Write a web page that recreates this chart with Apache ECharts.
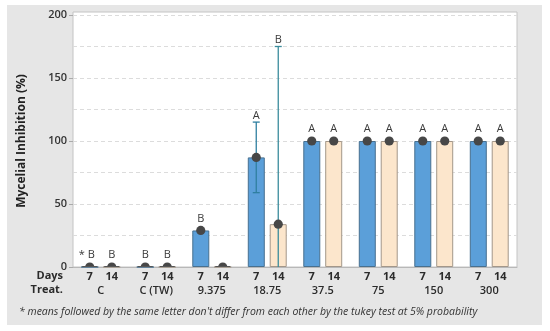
<!DOCTYPE html>
<html><head><meta charset="utf-8">
<script src="https://cdn.jsdelivr.net/npm/echarts@6/dist/echarts.min.js"></script>
<style>html,body{margin:0;padding:0;background:#fff}#c{width:550px;height:331px}</style>
</head><body><div id="c"></div>
<script>
const treatments = ['C', 'C (TW)', '9.375', '18.75', '37.5', '75', '150', '300'];
const days = ['7', '14'];
const mean7 = [0, 0, 29, 87, 100, 100, 100, 100];
const mean14 = [0, 0, 0, 34, 100, 100, 100, 100];
const err7 = [0, 0, 0, 28, 0, 0, 0, 0];
const err14 = [0, 0, 0, 141, 0, 0, 0, 0];
const letters7 = ['* B', 'B', 'B', 'A', 'A', 'A', 'A', 'A'];
const letters14 = ['B', 'B', '', 'B', 'A', 'A', 'A', 'A'];
const yTicks = [0, 50, 100, 150, 200];
const footnote = "* means followed by the same letter don't differ from each other by the tukey test at 5% probability";

const FONT = 'Open Sans';
const OFF = 11;

function makeRender(offset, means, errs, letters, errColor) {
  return function (params, api) {
    const i = params.dataIndex;
    const cs = params.coordSys;
    const bottom = cs.y + cs.height;
    const c = api.coord([i, means[i]]);
    const x = c[0] + offset;
    const children = [];
    let topY = c[1] - 4.5;
    let gap = 2;
    if (errs[i] > 0) {
      const yt = api.coord([i, means[i] + errs[i]])[1];
      const yb = Math.min(api.coord([i, means[i] - errs[i]])[1], bottom);
      const ls = { stroke: errColor, lineWidth: 1.3 };
      children.push({ type: 'line', shape: { x1: x, y1: yt, x2: x, y2: yb }, style: ls });
      children.push({ type: 'line', shape: { x1: x - 3.5, y1: yt, x2: x + 3.5, y2: yt }, style: ls });
      if (yb < bottom) {
        children.push({ type: 'line', shape: { x1: x - 3.5, y1: yb, x2: x + 3.5, y2: yb }, style: ls });
      }
      topY = yt;
      gap = 1;
    }
    if (c[1] >= bottom - 0.5) {
      children.push({ type: 'sector', shape: { cx: x, cy: bottom, r0: 0, r: 4.6, startAngle: Math.PI, endAngle: 2 * Math.PI, clockwise: true }, style: { fill: '#474747' } });
      children.push({ type: 'line', shape: { x1: x - 7.5, y1: bottom - 0.5, x2: x + 7.5, y2: bottom - 0.5 }, style: { stroke: '#555', lineWidth: 1 } });
    } else {
      children.push({ type: 'circle', shape: { cx: x, cy: c[1], r: 4.6 }, style: { fill: '#474747' } });
    }
    const lt = letters[i];
    if (lt) {
      const star = lt.indexOf('*') === 0;
      children.push({
        type: 'text',
        style: {
          text: lt, x: star ? x + 5 : x, y: topY - gap,
          align: star ? 'right' : 'center', verticalAlign: 'bottom',
          fontFamily: FONT, fontSize: 11, fill: '#3a3a3a'
        }
      });
    }
    return { type: 'group', children };
  };
}

const chart = echarts.init(document.getElementById('c'), null, { renderer: 'canvas' });
const labelRich = {
  d: { width: 22, align: 'center', fontFamily: FONT, fontSize: 11, fontWeight: 'bold', color: '#2b2b2b', lineHeight: 14 },
  t: { align: 'center', fontFamily: FONT, fontSize: 11, fontWeight: 600, color: '#2b2b2b', lineHeight: 14 }
};
chart.setOption({
  backgroundColor: '#ffffff',
  animation: false,
  graphic: [
    { type: 'rect', shape: { x: 7, y: 5, width: 535, height: 320 }, style: { fill: '#e6e6e6' }, z: -10 },
    { type: 'text', style: { text: 'Days', x: 63, y: 276, align: 'right', verticalAlign: 'middle', fontFamily: FONT, fontSize: 11, fontWeight: 'bold', fill: '#2b2b2b' } },
    { type: 'text', style: { text: 'Treat.', x: 63, y: 290, align: 'right', verticalAlign: 'middle', fontFamily: FONT, fontSize: 11, fontWeight: 'bold', fill: '#2b2b2b' } },
    { type: 'text', style: { text: footnote, x: 19, y: 312, align: 'left', verticalAlign: 'middle', fontFamily: FONT, fontSize: 10.5, fontStyle: 'italic', fill: '#333' } }
  ],
  grid: [
    { left: 73, right: 33, top: 15, bottom: 64, show: false, containLabel: false },
    { left: 73, right: 33, top: 12, bottom: 64, show: true, backgroundColor: '#ffffff', borderColor: '#c4c4c4', borderWidth: 1, z: 0 }
  ],
  xAxis: [
    {
      type: 'category', data: treatments, gridIndex: 0,
      axisLine: { show: true, lineStyle: { color: '#b8b8b8' } },
      axisTick: { show: false },
      axisLabel: {
        margin: 3, interval: 0,
        formatter: function (v) { return '{d|' + days[0] + '}{d|' + days[1] + '}\n{t|' + v + '}'; },
        rich: labelRich
      }
    },
    { type: 'value', gridIndex: 1, show: false }
  ],
  yAxis: [
    {
      type: 'value', gridIndex: 0, min: 0, max: 200, interval: 50,
      name: 'Mycelial Inhibition (%)', nameLocation: 'middle', nameGap: 45,
      nameTextStyle: { fontFamily: FONT, fontSize: 12, fontWeight: 'bold', color: '#222' },
      axisLine: { show: false },
      axisTick: { show: true, length: 4, lineStyle: { color: '#aaa' } },
      axisLabel: {
        margin: 6, fontFamily: FONT, fontSize: 11, fontWeight: 600, color: '#333',
        formatter: function (v) { return yTicks.indexOf(v) >= 0 ? String(v) : ''; }
      },
      splitLine: { show: true, lineStyle: { color: '#dcdcdc', type: [4, 3] } },
      minorTick: { show: false, splitNumber: 2 },
      minorSplitLine: { show: true, lineStyle: { color: '#dcdcdc', type: [4, 3] } }
    },
    { type: 'value', gridIndex: 1, show: false }
  ],
  series: [
    {
      type: 'bar', name: days[0], data: mean7, barWidth: 17, barGap: '29%',
      itemStyle: { color: '#5b9fd9', borderColor: '#48708f', borderWidth: 1 }, z: 2
    },
    {
      type: 'bar', name: days[1], data: mean14, barWidth: 17, barGap: '29%',
      itemStyle: { color: '#fce6cc', borderColor: '#a3978a', borderWidth: 1 }, z: 2
    },
    {
      type: 'custom', z: 5,
      data: mean7.map((v, i) => [i, v]),
      encode: { x: 0, y: 1 },
      renderItem: makeRender(-OFF, mean7, err7, letters7, '#2f7fa0')
    },
    {
      type: 'custom', z: 5,
      data: mean14.map((v, i) => [i, v]),
      encode: { x: 0, y: 1 },
      renderItem: makeRender(OFF, mean14, err14, letters14, '#3a8c9c')
    }
  ]
});
</script></body></html>
